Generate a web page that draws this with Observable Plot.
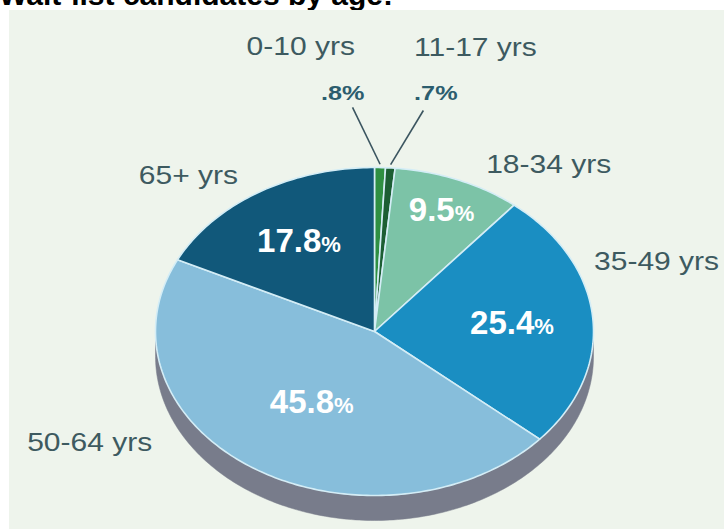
<!DOCTYPE html>
<html>
<head>
<meta charset="utf-8">
<script src="https://cdn.jsdelivr.net/npm/d3@7"></script>
<script src="https://cdn.jsdelivr.net/npm/@observablehq/plot@0.6"></script>
<style>
  html, body { margin: 0; padding: 0; background: #ffffff; }
  body { width: 724px; height: 529px; overflow: hidden; font-family: "Liberation Sans", Arial, sans-serif; }
  #title { position: relative; height: 10px; overflow: hidden; }
  #title span { position: absolute; left: -1px; top: -20px; font-size: 30px; line-height: 30px; font-weight: bold; color: #000; white-space: nowrap; }
  #panel { margin-left: 9px; width: 715px; height: 519px; background: #eef4ec; }
  #panel svg { display: block; overflow: visible; }
</style>
</head>
<body>
<div id="title"><span>Wait-list candidates by age:</span></div>
<div id="panel"></div>
<script>
// ---- data ----
const categories = ["0-10 yrs", "11-17 yrs", "18-34 yrs", "35-49 yrs", "50-64 yrs", "65+ yrs"];
const shares = [0.8, 0.7, 9.5, 25.4, 45.8, 17.8];

// ---- style / layout ----
const sliceColors = ["#2f8f42", "#1c5e33", "#7cc3a7", "#1a8ec2", "#87bedb", "#11587a"];
const edgeColor = "#787c8b";
const sepColor = "#d4edf6";
// label placement (polar, pie units): angle in degrees clockwise from top, radius
const nameAngle  = [349.0, 14.9, 38.0, 71.9, 242.3, 318.2];
const nameRadius = [1.765, 1.792, 1.292, 1.355, 1.469, 1.275];
const insideRadius = [null, null, 0.80, 0.63, 0.52, 0.65];
const pctAngle  = [354.3, 10.9];
const pctRadius = [1.461, 1.481];
const leaderAngle = [355.8, 9.4];
const leaderRadius = [1.37, 1.366];

const W = 715, H = 519;
const cx = 365, cy = 321, rx = 219, ry = 164, depthPx = 25;

const rows = categories.map((c, i) => ({cat: c, value: shares[i], i}));
const arcs = d3.pie().sort(null).value(d => d.value).startAngle(0).endAngle(2 * Math.PI)(rows);
const rad = deg => deg * Math.PI / 180;
const polar = (a, r) => ({x: r * Math.sin(a), y: r * Math.cos(a)});

// slice polygons
const slicePts = arcs.flatMap(a => {
  const span = a.endAngle - a.startAngle;
  const n = Math.max(3, Math.ceil(span / rad(1)));
  const pts = [{cat: a.data.cat, x: 0, y: 0}];
  for (let k = 0; k <= n; k++) {
    const t = a.startAngle + span * k / n;
    pts.push({cat: a.data.cat, ...polar(t, 1)});
  }
  return pts;
});

// 3D side band
const depth = depthPx / ry;
const band = [];
for (let k = 0; k <= 180; k++) { const t = rad(90 + k); band.push(polar(t, 1)); }
for (let k = 180; k >= 0; k--) { const t = rad(90 + k); const p = polar(t, 1); band.push({x: p.x, y: p.y - depth}); }

const mid = a => (a.startAngle + a.endAngle) / 2;

const nameLabels = arcs.map((a, i) => ({text: a.data.cat, ...polar(rad(nameAngle[i]), nameRadius[i])}));
const insideLabels = arcs.filter((a, i) => insideRadius[i] != null)
  .map(a => ({text: a.data.value.toFixed(1) + "%", ...polar(mid(a), insideRadius[a.data.i])}));
const smallArcs = arcs.filter((a, i) => insideRadius[i] == null);
const smallLabels = smallArcs.map((a, j) => ({
  text: String(a.data.value).replace(/^0/, "") + "%",
  ...polar(rad(pctAngle[j]), pctRadius[j])
}));
const leaders = smallArcs.map((a, j) => {
  const p1 = polar(rad(leaderAngle[j]), leaderRadius[j]);
  const p2 = polar(mid(a), 1.02);
  return {x1: p1.x, y1: p1.y, x2: p2.x, y2: p2.y};
});

const font = "'Liberation Sans', Arial, Helvetica, sans-serif";

const svg = Plot.plot({
  width: W,
  height: H,
  margin: 0,
  style: {background: "transparent", overflow: "visible"},
  x: {domain: [-1, 1], range: [cx - rx, cx + rx], axis: null},
  y: {domain: [-1, 1], range: [cy + ry, cy - ry], axis: null},
  color: {domain: categories, range: sliceColors},
  marks: [
    Plot.line(band, {x: "x", y: "y", fill: edgeColor, stroke: edgeColor, strokeWidth: 0.5, curve: "linear-closed"}),
    Plot.line(slicePts, {x: "x", y: "y", z: "cat", fill: "cat", stroke: sepColor, strokeWidth: 1.6, strokeLinejoin: "round", curve: "linear-closed"}),
    Plot.link(leaders, {x1: "x1", y1: "y1", x2: "x2", y2: "y2", stroke: "#3b5560", strokeWidth: 1.6}),
    Plot.text(nameLabels, {x: "x", y: "y", text: "text", fontSize: 25, fill: "#3d5a60", fontFamily: font, lineAnchor: "middle"}),
    Plot.text(smallLabels, {x: "x", y: "y", text: "text", fontSize: 21, fontWeight: "bold", fill: "#2c5d6e", fontFamily: font, lineAnchor: "middle"}),
    Plot.text(insideLabels, {x: "x", y: "y", text: "text", fontSize: 33, fontWeight: "bold", fill: "#ffffff", fontFamily: font, lineAnchor: "middle"})
  ]
});

const textGroups = svg.querySelectorAll('g[aria-label="text"]');
const stretch = t => {
  const tr = t.getAttribute("transform");
  if (tr) t.setAttribute("transform", tr + " scale(1.2,1)");
  else {
    const x = +t.getAttribute("x") || 0, y = +t.getAttribute("y") || 0;
    t.setAttribute("transform", `translate(${x},${y}) scale(1.2,1) translate(${-x},${-y})`);
  }
};
// horizontal stretch of the outer labels (the reference type is wide)
if (textGroups[0]) textGroups[0].querySelectorAll("text").forEach(stretch);
if (textGroups[1]) textGroups[1].querySelectorAll("text").forEach(stretch);
// smaller percent sign inside slices
if (textGroups[2]) textGroups[2].querySelectorAll("text").forEach(t => {
  const s = t.textContent;
  if (s.endsWith("%")) {
    while (t.firstChild) t.removeChild(t.firstChild);
    t.appendChild(document.createTextNode(s.slice(0, -1)));
    const ts = document.createElementNS("http://www.w3.org/2000/svg", "tspan");
    ts.setAttribute("font-size", "22");
    ts.textContent = "%";
    t.appendChild(ts);
  }
});

document.getElementById("panel").appendChild(svg);
</script>
</body>
</html>
